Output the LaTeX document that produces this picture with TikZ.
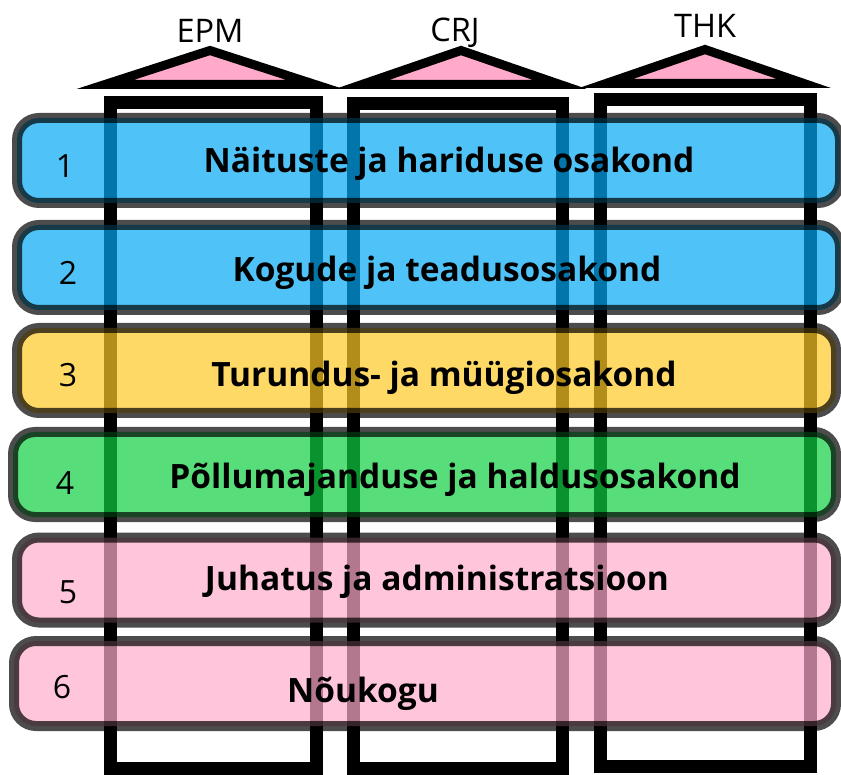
\documentclass[tikz,border=0pt]{standalone}
\usepackage{fontspec}
\setmainfont{Open Sans}
\usepackage{xcolor}
\usetikzlibrary{positioning}

\definecolor{deptblue}{RGB}{4,169,244}
\definecolor{deptyellow}{RGB}{255,201,36}
\definecolor{deptgreen}{RGB}{15,208,66}
\definecolor{deptpink}{RGB}{255,172,204}
\definecolor{roofpink}{RGB}{255,170,202}

\begin{document}
\begin{tikzpicture}[x=1pt,y=-1pt]
    \tikzset{column/.style = {draw=black, line width=13pt}}
    \tikzset{dept/.style = {shape=rectangle, rounded corners=22pt, draw=black, line width=10pt,
        opacity=0.7, minimum height=85pt, inner sep=0pt}}
    \tikzset{deptname/.style = {font=\bfseries\fontsize{33.5}{38}\selectfont, inner sep=0pt, anchor=base}}
    \tikzset{deptnum/.style = {font=\fontsize{32}{36}\selectfont, inner sep=0pt, anchor=base}}
    \tikzset{roof/.style = {draw=black, fill=roofpink, line width=9pt, line join=miter}}
    \tikzset{unit/.style = {font=\fontsize{32.5}{36}\selectfont, inner sep=0pt, anchor=base}}

    \useasboundingbox (0,0) rectangle (841,775);

    % columns
    \draw[column] (110,103) rectangle (316,768);
    \draw[column] (353.5,103.5) rectangle (562.5,768);
    \draw[column] (600,100) rectangle (810,766);

    % departments
    \node[dept, fill=deptblue, minimum width=823pt] (r1) at (428.5,160.5) {};
    \node[dept, fill=deptblue, minimum width=823pt] (r2) at (428.5,267.5) {};
    \node[dept, fill=deptyellow, minimum width=819pt] (r3) at (426.5,370.5) {};
    \node[dept, fill=deptgreen, minimum width=823pt] (r4) at (424.5,474.5) {};
    \node[dept, fill=deptpink, minimum width=819pt] (r5) at (426.5,580) {};
    \node[dept, fill=deptpink, minimum width=822pt] (r6) at (425,683.5) {};

    \node[deptnum] (n1) at (65,178) {1};
    \node[deptnum] (n2) at (68,285) {2};
    \node[deptnum] (n3) at (68,387) {3};
    \node[deptnum] (n4) at (65,494) {4};
    \node[deptnum] (n5) at (68,603) {5};
    \node[deptnum] (n6) at (62,698) {6};

    \node[deptname] (t1) at (449,173) {Näituste ja hariduse osakond};
    \node[deptname] (t2) at (447,282) {Kogude ja teadusosakond};
    \node[deptname] (t3) at (444,387) {Turundus- ja müügiosakond};
    \node[deptname] (t4) at (455,488) {Põllumajanduse ja haldusosakond};
    \node[deptname] (t5) at (437,590) {Juhatus ja administratsioon};
    \node[deptname] (t6) at (363,702) {Nõukogu};

    % roofs
    \draw[roof] (105,84.5) -- (210,50.5) -- (315,84.5) -- cycle;
    \draw[roof] (362,84.5) -- (461,50.5) -- (560,84.5) -- cycle;
    \draw[roof] (606,83.5) -- (705,49.5) -- (804,83.5) -- cycle;

    \node[unit] (epm) at (210,43) {EPM};
    \node[unit] (crj) at (455,42) {CRJ};
    \node[unit] (thk) at (705,38) {THK};
\end{tikzpicture}
\end{document}
